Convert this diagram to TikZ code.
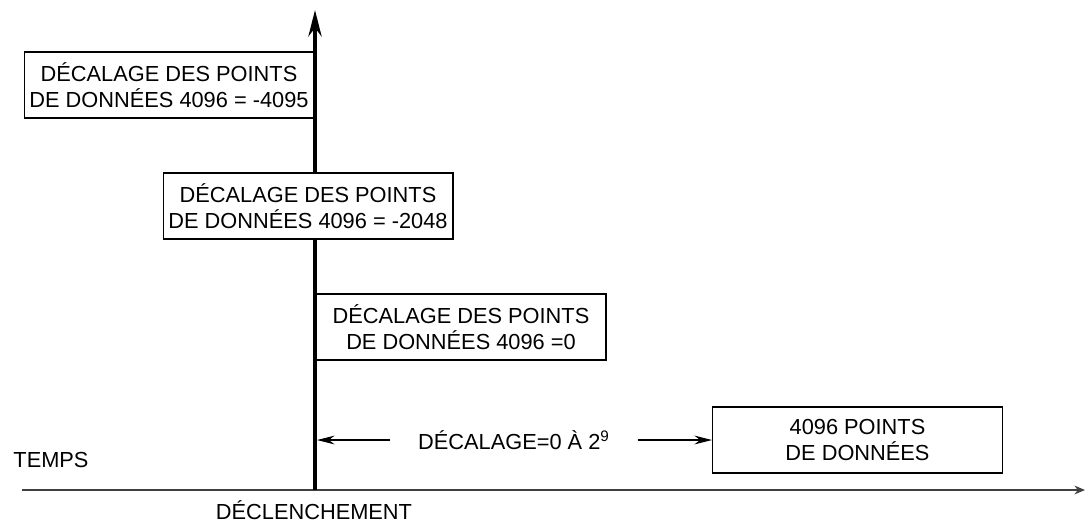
\documentclass[tikz,border=0pt]{standalone}
\usepackage{fontspec}
\setmainfont{Liberation Sans}
\usepackage{tikz}
\usetikzlibrary{
    positioning,
    arrows.meta
}
\tikzset{
    >={Stealth[length=10pt,width=5pt]},
    decbox/.style={
        draw,
        fill=white,
        line width=0.6pt,
        minimum width=5.8cm,
        minimum height=1.32cm,
        align=center,
        inner sep=0pt
    },
    lbl/.style={
        font=\fontsize{12.4}{14.8}\selectfont
    }
}

\begin{document}
\begin{tikzpicture}[
    x=0.02cm,
    y=-0.02cm,
    every node/.style={lbl}
]
    \useasboundingbox (0,0) rectangle (1086,522);

    % Axe du temps et declenchement
    \coordinate (t0)   at (22,490);
    \coordinate (tend) at (1085,490);
    \coordinate (trig) at (315,490);
    \coordinate (top)  at (315,10);

    \draw[-{Stealth[length=6pt,width=5pt]}, line width=0.9pt, draw=black!75] (t0) -- (tend);
    \draw[-{Stealth[length=15pt,width=7.5pt]}, line width=2.3pt] (trig) -- (top);

    % Boites de decalage
    \node[decbox] (d1) at (169,85)  {DÉCALAGE DES POINTS\\DE DONNÉES 4096 = -4095};
    \node[decbox] (d2) at (308,206) {DÉCALAGE DES POINTS\\DE DONNÉES 4096 = -2048};
    \node[decbox] (d3) at (461,327) {DÉCALAGE DES POINTS\\ DE DONNÉES 4096 =0};
    \node[decbox] (pts) at (857.5,440) {4096 POINTS\\DE DONNÉES};

    % Plage du decalage
    \node[inner xsep=0.55cm] (offs) at (514,440) {DÉCALAGE=0 À 2\textsuperscript{9}};
    \coordinate (hit) at (317,440);
    \draw[->, line width=0.6pt] (offs.west) -- (hit);
    \draw[->, line width=0.6pt] (offs.east) -- (pts.west);

    % Textes
    \node (temps) at (51,460)  {TEMPS};
    \node (decl)  at (314,510) {DÉCLENCHEMENT};

\end{tikzpicture}
\end{document}
